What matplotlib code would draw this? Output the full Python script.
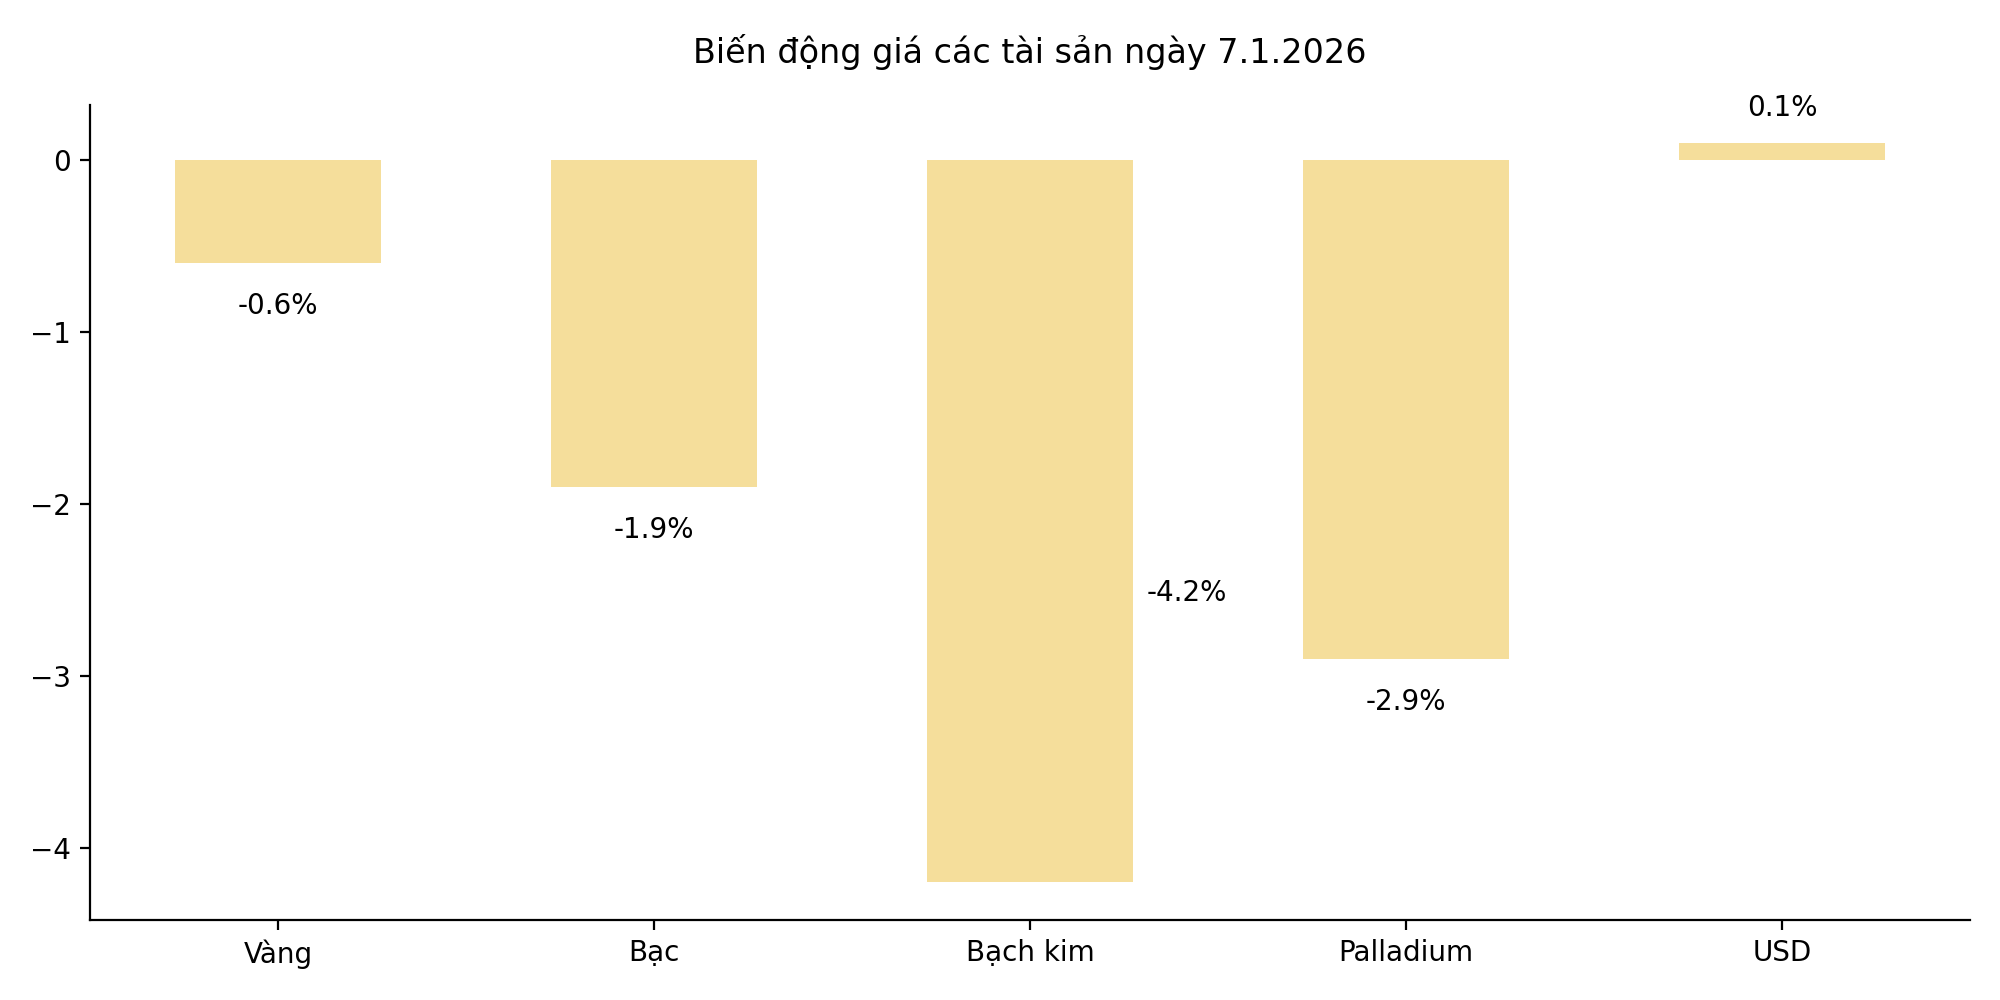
import matplotlib
matplotlib.use("Agg")
import matplotlib.pyplot as plt

categories = ["Vàng", "Bạc", "Bạch kim", "Palladium", "USD"]
values = [-0.6, -1.9, -4.2, -2.9, 0.1]
labels = ["-0.6%", "-1.9%", "-4.2%", "-2.9%", "0.1%"]

fig, ax = plt.subplots(figsize=(10, 5), dpi=200)
x = range(len(categories))
ax.bar(x, values, width=0.55, color="#F5DE9B")
for i, (v, t) in enumerate(zip(values, labels)):
    if v >= 0:
        ax.text(i, v + 0.12, t, ha="center", va="bottom", fontsize=10)
    elif i == 2:
        ax.text(i + 0.31, -2.52, t, ha="left", va="center", fontsize=10)
    else:
        ax.text(i, v - 0.17, t, ha="center", va="top", fontsize=10)
ax.set_xticks(list(x))
ax.set_xticklabels(categories, fontsize=10)
ax.tick_params(axis="y", labelsize=10)
ax.set_xlim(-0.5, 4.5)
ax.set_ylim(-4.42, 0.32)
ax.spines["top"].set_visible(False)
ax.spines["right"].set_visible(False)
ax.set_title("Biến động giá các tài sản ngày 7.1.2026", fontsize=12, pad=15)
fig.subplots_adjust(left=0.045, right=0.985, top=0.895, bottom=0.08)
fig.savefig("out.png")
